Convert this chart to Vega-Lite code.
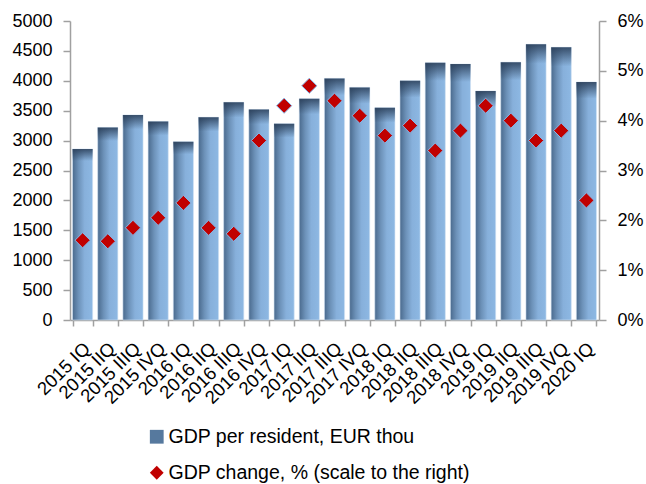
{
  "$schema": "https://vega.github.io/schema/vega-lite/v6.json",
  "autosize": {"type": "none"},
  "width": 529,
  "height": 299,
  "padding": {"left": 70, "top": 21, "right": 47, "bottom": 164},
  "background": "white",
  "config": {
    "view": {"stroke": null},
    "font": "Liberation Sans",
    "axis": {
      "labelFont": "Liberation Sans",
      "labelFontSize": 18,
      "labelColor": "#000000",
      "domainColor": "#a0a0a0",
      "tickColor": "#a0a0a0",
      "domainWidth": 1.5,
      "tickWidth": 1.5,
      "grid": false,
      "title": null
    }
  },
  "data": {
    "values": [
      {"quarter": "2015 IQ", "gdp": 2860, "change": 1.6},
      {"quarter": "2015 IIQ", "gdp": 3220, "change": 1.58},
      {"quarter": "2015 IIIQ", "gdp": 3430, "change": 1.85},
      {"quarter": "2015 IVQ", "gdp": 3320, "change": 2.05},
      {"quarter": "2016 IQ", "gdp": 2980, "change": 2.35},
      {"quarter": "2016 IIQ", "gdp": 3390, "change": 1.85},
      {"quarter": "2016 IIIQ", "gdp": 3640, "change": 1.73},
      {"quarter": "2016 IVQ", "gdp": 3520, "change": 3.6},
      {"quarter": "2017 IQ", "gdp": 3280, "change": 4.3},
      {"quarter": "2017 IIQ", "gdp": 3700, "change": 4.7},
      {"quarter": "2017 IIIQ", "gdp": 4040, "change": 4.4},
      {"quarter": "2017 IVQ", "gdp": 3890, "change": 4.1},
      {"quarter": "2018 IQ", "gdp": 3550, "change": 3.7},
      {"quarter": "2018 IIQ", "gdp": 4000, "change": 3.9},
      {"quarter": "2018 IIIQ", "gdp": 4300, "change": 3.4},
      {"quarter": "2018 IVQ", "gdp": 4280, "change": 3.8},
      {"quarter": "2019 IQ", "gdp": 3830, "change": 4.3},
      {"quarter": "2019 IIQ", "gdp": 4310, "change": 4.0},
      {"quarter": "2019 IIIQ", "gdp": 4610, "change": 3.6},
      {"quarter": "2019 IVQ", "gdp": 4560, "change": 3.8},
      {"quarter": "2020 IQ", "gdp": 3980, "change": 2.4}
    ]
  },
  "encoding": {
    "x": {
      "field": "quarter",
      "type": "nominal",
      "sort": null,
      "scale": {"paddingInner": 0.2, "paddingOuter": 0.1},
      "axis": {
        "tickBand": "extent",
        "tickSize": 6,
        "labelAngle": -45,
        "labelAlign": "right",
        "labelBaseline": "middle",
        "labelFontSize": 18.5,
        "labelPadding": 19,
        "labelOffset": 4
      }
    }
  },
  "layer": [
    {
      "mark": {
        "type": "bar",
        "stroke": "#d2e2f3",
        "strokeWidth": 0.6,
        "fill": {
          "gradient": "linear",
          "x1": 0, "y1": 0, "x2": 1, "y2": 0,
          "stops": [
            {"offset": 0, "color": "#4a6a8d"},
            {"offset": 0.3, "color": "#6d92b9"},
            {"offset": 0.6, "color": "#87b0db"},
            {"offset": 1, "color": "#8db8e3"}
          ]
        }
      },
      "encoding": {
        "y": {
          "field": "gdp",
          "type": "quantitative",
          "scale": {"domain": [0, 5000]},
          "axis": {
            "orient": "left",
            "values": [0, 500, 1000, 1500, 2000, 2500, 3000, 3500, 4000, 4500, 5000],
            "format": "d",
            "tickSize": 7,
            "labelPadding": 11
          }
        }
      }
    },
    {
      "mark": {
        "type": "bar",
        "fill": {
          "gradient": "linear",
          "x1": 0, "y1": 0, "x2": 0, "y2": 1,
          "stops": [
            {"offset": 0, "color": "rgba(40,60,86,0.85)"},
            {"offset": 0.07, "color": "rgba(40,60,86,0)"},
            {"offset": 1, "color": "rgba(40,60,86,0)"}
          ]
        }
      },
      "encoding": {
        "y": {"field": "gdp", "type": "quantitative", "scale": {"domain": [0, 5000]}, "axis": null}
      }
    },
    {
      "mark": {
        "type": "point",
        "filled": true,
        "opacity": 1,
        "size": 230,
        "stroke": "#86b6e8",
        "strokeWidth": 1
      },
      "encoding": {
        "y": {
          "field": "change",
          "type": "quantitative",
          "scale": {"domain": [0, 6]},
          "axis": {
            "orient": "right",
            "values": [0, 1, 2, 3, 4, 5, 6],
            "labelExpr": "datum.value + '%'",
            "tickSize": 7,
            "labelPadding": 11
          }
        },
        "color": {
          "datum": "GDP change, % (scale to the right)",
          "type": "nominal",
          "scale": {
            "domain": ["GDP per resident, EUR thou", "GDP change, % (scale to the right)"],
            "range": ["#56799e", "#c00000"]
          },
          "legend": {
            "orient": "none",
            "legendX": 77,
            "legendY": 406,
            "title": null,
            "direction": "vertical",
            "labelFontSize": 19.5,
            "labelFont": "Liberation Sans",
            "labelColor": "#000000",
            "labelLimit": 0,
            "symbolSize": 190,
            "symbolStrokeWidth": 0,
            "rowPadding": 15,
            "labelOffset": 2
          }
        },
        "shape": {
          "datum": "GDP change, % (scale to the right)",
          "type": "nominal",
          "scale": {
            "domain": ["GDP per resident, EUR thou", "GDP change, % (scale to the right)"],
            "range": ["square", "diamond"]
          },
          "legend": {
            "orient": "none",
            "legendX": 77,
            "legendY": 406,
            "title": null,
            "direction": "vertical",
            "labelFontSize": 19.5,
            "labelFont": "Liberation Sans",
            "labelColor": "#000000",
            "labelLimit": 0,
            "symbolSize": 190,
            "symbolStrokeWidth": 0,
            "rowPadding": 15,
            "labelOffset": 2
          }
        }
      }
    }
  ],
  "resolve": {"scale": {"y": "independent"}, "axis": {"y": "independent"}}
}
